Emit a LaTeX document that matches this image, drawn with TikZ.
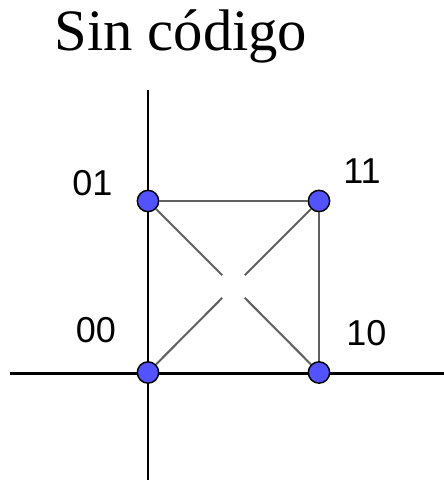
\documentclass[tikz,border=0pt]{standalone}
\usepackage{fontspec}
\setmainfont{Liberation Serif}
\newfontfamily\lblfont{Liberation Sans}
\definecolor{ptblue}{RGB}{82,82,255}
\definecolor{edgegray}{RGB}{96,96,96}
\tikzset{
    vertex/.style={circle, draw=black, line width=1.1pt, fill=ptblue, minimum size=16pt, inner sep=0pt},
    axis/.style={black, line width=2pt},
    edge/.style={edgegray, line width=1.5pt},
    lbl/.style={inner sep=0pt, font=\lblfont\fontsize{27}{27}\selectfont}
}
\begin{document}
\begin{tikzpicture}[x=0.75pt, y=0.75pt]
    \useasboundingbox (0,0) rectangle (444,480);

    \node[anchor=base, inner sep=0pt, font=\fontsize{44}{44}\selectfont] (title) at (181,430) {Sin código};

    % ejes
    \coordinate (ytop) at (148,390);
    \coordinate (ybot) at (148,0);
    \coordinate (xleft) at (10,106.5);
    \coordinate (xright) at (444,106.5);
    \draw[axis] (ytop) -- (ybot);
    \draw[axis] (xleft) -- (xright);

    % vertices
    \node[vertex] (v00) at (148,107.5) {};
    \node[vertex] (v10) at (319,107.5) {};
    \node[vertex] (v01) at (148,279) {};
    \node[vertex] (v11) at (319,279) {};
    \coordinate (mid) at (233.5,193.5);

    \node[lbl] (l01) at (92.5,296.5) {01};
    \node[lbl] (l11) at (362,308.5) {11};
    \node[lbl] (l00) at (96,150) {00};
    \node[lbl] (l10) at (366.5,146.5) {10};

    \draw[edge] (v01) -- (v11);
    \draw[edge] (v11) -- (v10);
    \draw[edge, shorten >=12pt] (v01) -- (mid);
    \draw[edge, shorten >=12pt] (v10) -- (mid);
    \draw[edge, shorten >=12pt] (v00) -- (mid);
    \draw[edge, shorten >=12pt] (v11) -- (mid);
\end{tikzpicture}
\end{document}
